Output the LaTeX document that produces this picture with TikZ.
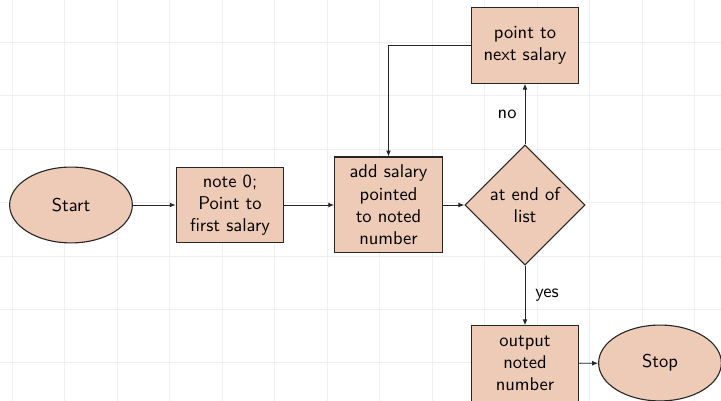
\documentclass[tikz,border=0pt]{standalone}
\usetikzlibrary{shapes.geometric,arrows.meta}
\definecolor{peach}{RGB}{238,203,183}
\definecolor{gridgray}{RGB}{240,240,240}
\begin{document}
\begin{tikzpicture}[x=0.01898cm, y=-0.01898cm,
  font=\sffamily,
  base/.style={draw=black!85, fill=peach, line width=0.6pt, align=center, inner sep=2pt},
  term/.style={base, ellipse, minimum width=2.33cm, minimum height=1.44cm},
  procbox/.style={base, rectangle, minimum width=2.01cm, minimum height=1.43cm, text width=1.9cm},
  tallbox/.style={procbox, minimum height=1.82cm},
  decide/.style={base, diamond, minimum width=2.28cm, minimum height=2.28cm, inner sep=0pt, aspect=1},
  flow/.style={draw=black!85, line width=0.5pt, -{Latex[length=3.2pt,width=2.6pt]}},
  lbl/.style={font=\sffamily}
]
  % bounding box
  \useasboundingbox (0,0) rectangle (721,401);

  % faint background grid
  \foreach \gx in {12,64.5,117,169.5,222,274.5,327,379.5,432,484.5,537,589.5,642,694.5}
    \draw[gridgray, line width=0.5pt] (\gx,0) -- (\gx,401);
  \foreach \gy in {42,95.5,149,202.5,256,309,362}
    \draw[gridgray, line width=0.5pt] (0,\gy) -- (721,\gy);

  % nodes
  \node[term] (start) at (71,205) {Start};
  \node[procbox] (init) at (230,205) {note 0;\\Point to\\first salary};
  \node[tallbox] (add) at (388.5,205) {add salary\\pointed\\to noted\\number};
  \node[decide] (check) at (525,205) {at end of\\list};
  \node[procbox] (next) at (525,45.5) {point to\\next salary};
  \node[procbox] (out) at (525,363.5) {output\\noted\\number};
  \node[term] (stop) at (660,363) {Stop};

  % connectors
  \draw[flow] (start) -- (init);
  \draw[flow] (init) -- (add);
  \draw[flow] (add) -- (check);
  \draw[flow] (check) -- node[lbl, left=1pt, pos=0.5] {no} (next);
  \draw[flow] (next.west) -| (add.north);
  \draw[flow] (check) -- node[lbl, right=2pt, pos=0.5] {yes} (out);
  \draw[flow] (out) -- (stop);
\end{tikzpicture}
\end{document}
